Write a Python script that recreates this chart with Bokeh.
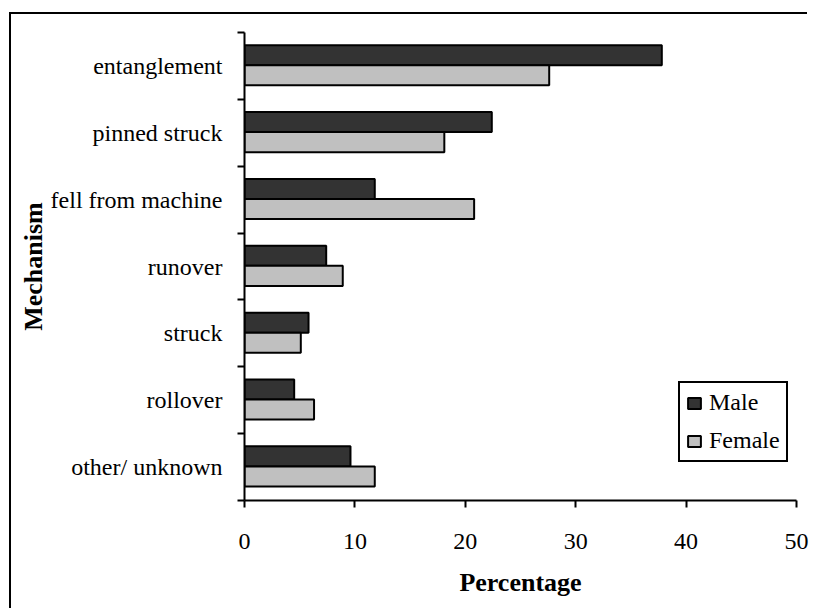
from bokeh.plotting import figure
from bokeh.models import ColumnDataSource, Range1d, FixedTicker, Legend, LegendItem
from bokeh.embed import file_html
from bokeh.resources import INLINE

categories = ["entanglement", "pinned struck", "fell from machine", "runover",
              "struck", "rollover", "other/ unknown"]
male = [37.8, 22.4, 11.8, 7.4, 5.8, 4.5, 9.6]
female = [27.6, 18.1, 20.8, 8.9, 5.1, 6.3, 11.8]
x_ticks = [0, 10, 20, 30, 40, 50]

n = len(categories)
centers = [n - i - 0.5 for i in range(n)]
bounds = list(range(n + 1))

src = ColumnDataSource(dict(
    cat=categories,
    male=male,
    female=female,
    ym=[c + 0.16 for c in centers],
    yf=[c - 0.14 for c in centers],
))

FONT = "Liberation Serif"

p = figure(width=798, height=596, output_backend="svg", toolbar_location=None,
           x_range=Range1d(0, 50), y_range=Range1d(0, n),
           min_border_left=233, min_border_right=13, min_border_top=18,
           min_border_bottom=110)
p.styles = {"margin-left": "11px", "margin-top": "14px",
            "box-shadow": "-2px -2px 0px 0px black"}
p.outline_line_color = None
p.border_fill_color = "white"
p.xgrid.visible = False
p.ygrid.visible = False

rm = p.hbar(y="ym", right="male", left=0, height=0.3, source=src,
            fill_color="#333333", line_color="black", line_width=2)
rf = p.hbar(y="yf", right="female", left=0, height=0.3, source=src,
            fill_color="#c0c0c0", line_color="black", line_width=2)

# x axis
xa = p.xaxis[0]
xa.ticker = FixedTicker(ticks=x_ticks)
xa.axis_label = "Percentage"
xa.axis_label_text_font = FONT
xa.axis_label_text_font_style = "bold"
xa.axis_label_text_font_size = "26px"
xa.axis_label_text_color = "black"
xa.axis_label_standoff = 16
xa.major_label_text_font = FONT
xa.major_label_text_font_size = "24px"
xa.major_label_text_color = "black"
xa.major_label_standoff = 26
xa.axis_line_width = 2
xa.axis_line_color = "black"
xa.major_tick_line_width = 2
xa.major_tick_line_color = "black"
xa.major_tick_in = 0
xa.major_tick_out = 7
xa.minor_tick_line_color = None

# y axis
ya = p.yaxis[0]
ya.ticker = FixedTicker(ticks=centers, minor_ticks=bounds)
ya.major_label_overrides = {c: lab for c, lab in zip(centers, categories)}
ya.axis_label = "Mechanism"
ya.axis_label_text_font = FONT
ya.axis_label_text_font_style = "bold"
ya.axis_label_text_font_size = "26px"
ya.axis_label_text_color = "black"
ya.axis_label_standoff = 0
ya.major_label_text_font = FONT
ya.major_label_text_font_size = "24px"
ya.major_label_text_color = "black"
ya.major_label_standoff = 15
ya.axis_line_width = 2
ya.axis_line_color = "black"
ya.major_tick_line_color = None
ya.major_tick_in = 0
ya.major_tick_out = 0
ya.minor_tick_line_width = 2
ya.minor_tick_line_color = "black"
ya.minor_tick_in = 0
ya.minor_tick_out = 7

legend = Legend(items=[LegendItem(label="Male", renderers=[rm]),
                       LegendItem(label="Female", renderers=[rf])],
                location=(434, 38))
legend.border_line_color = "black"
legend.border_line_width = 2
legend.border_line_alpha = 1
legend.background_fill_alpha = 1
legend.label_text_font = FONT
legend.label_text_font_size = "24px"
legend.label_text_color = "black"
legend.glyph_width = 16
legend.glyph_height = 14
legend.label_standoff = 7
legend.spacing = 11
legend.padding = 6
legend.margin = 0
p.add_layout(legend)

open("out.html", "w").write(file_html(p, INLINE))
